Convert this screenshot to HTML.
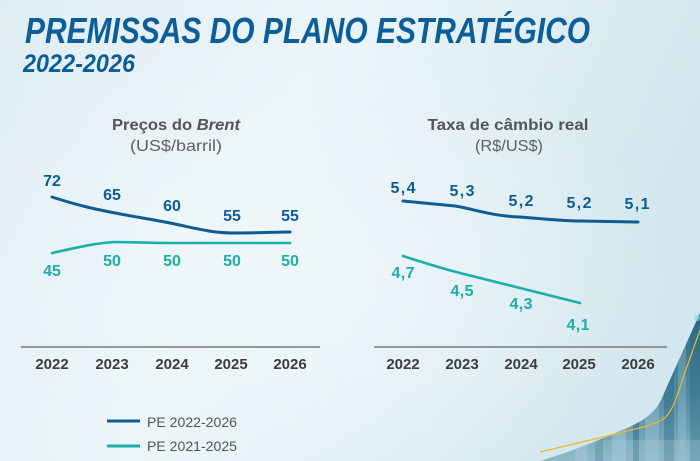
<!DOCTYPE html>
<html><head><meta charset="utf-8"><style>
html,body{margin:0;padding:0;}
body{width:700px;height:461px;overflow:hidden;}
svg{display:block;}
</style></head><body>
<svg width="700" height="461" viewBox="0 0 700 461" xmlns="http://www.w3.org/2000/svg" font-family="'Liberation Sans', 'DejaVu Sans', sans-serif">
<defs>
<linearGradient id="bg" x1="0" y1="0" x2="1" y2="0.3">
<stop offset="0" stop-color="#dfedf2"/>
<stop offset="0.45" stop-color="#ebf5f8"/>
<stop offset="1" stop-color="#d2e7ee"/>
</linearGradient>
<radialGradient id="glow" cx="0.42" cy="0.62" r="0.55">
<stop offset="0" stop-color="#f0f7fa" stop-opacity="0.9"/>
<stop offset="1" stop-color="#f0f7fa" stop-opacity="0"/>
</radialGradient>
<linearGradient id="bld" x1="0" y1="0" x2="0" y2="1">
<stop offset="0" stop-color="#2a6a87"/>
<stop offset="0.55" stop-color="#4f8ba4"/>
<stop offset="1" stop-color="#84b4c5"/>
</linearGradient>
<clipPath id="bc"><path d="M540,461 C570,452 600,440 622,430 C642,422 655,414 662,398 C672,375 688,340 700,313 L700,461 Z"/></clipPath>
</defs>
<rect width="700" height="461" fill="url(#bg)"/>
<rect width="700" height="461" fill="url(#glow)"/>

<!-- building graphic -->
<path d="M540,461 C570,452 600,440 622,430 C642,422 655,414 662,398 C672,375 688,340 700,313 L700,461 Z" fill="url(#bld)"/>
<g clip-path="url(#bc)">
<rect x="575" y="400" width="12" height="61" fill="#b8d3dd" opacity="0.4"/>
<rect x="595" y="400" width="8" height="61" fill="#2f6880" opacity="0.35"/>
<rect x="612" y="400" width="14" height="61" fill="#c3dbe3" opacity="0.35"/>
<rect x="633" y="380" width="6" height="81" fill="#27607a" opacity="0.45"/>
<rect x="645" y="380" width="14" height="81" fill="#b5d0db" opacity="0.3"/>
<rect x="664" y="340" width="10" height="121" fill="#245c76" opacity="0.35"/>
<rect x="678" y="320" width="8" height="141" fill="#a9c9d6" opacity="0.3"/>
<rect x="690" y="310" width="10" height="151" fill="#2a6582" opacity="0.35"/>
<rect x="540" y="440" width="160" height="21" fill="#a6c6d3" opacity="0.3"/>
</g>
<path d="M540,452 L620,433 C640,428 655,424 662,420 C672,413 676,400 683,378 L700,330" fill="none" stroke="#f0b72a" stroke-width="1.2"/>
<circle cx="697" cy="318" r="3" fill="#7fe0f0" opacity="0.7"/>

<!-- title -->
<text x="25" y="43" font-weight="bold" font-style="italic" font-size="36" fill="#0d5e98" textLength="565" lengthAdjust="spacingAndGlyphs">PREMISSAS DO PLANO ESTRATÉGICO</text>
<text x="23" y="72" font-weight="bold" font-style="italic" font-size="25" fill="#0d5e98" textLength="112" lengthAdjust="spacingAndGlyphs">2022-2026</text>

<!-- left chart -->
<text x="176" y="130" text-anchor="middle" font-size="16" font-weight="bold" fill="#555" textLength="128" lengthAdjust="spacingAndGlyphs">Preços do <tspan font-style="italic">Brent</tspan></text>
<text x="176" y="151" text-anchor="middle" font-size="16" fill="#606060" textLength="92" lengthAdjust="spacingAndGlyphs">(US$/barril)</text>

<path d="M52,197 C80,206 95,209 110,212 C135,217 150,219 170,223 C195,228 210,233 235,233 C260,233 275,232 290,232" fill="none" stroke="#0e5c92" stroke-width="3" stroke-linecap="round"/>
<path d="M52,253 C75,248 95,243 115,242 C130,242 150,243 170,243 L290,243" fill="none" stroke="#1ab0a7" stroke-width="2.6" stroke-linecap="round"/>

<g font-size="16" font-weight="bold" fill="#0e5c92" text-anchor="middle">
<text x="52" y="186">72</text>
<text x="112" y="200">65</text>
<text x="172" y="211">60</text>
<text x="232" y="221">55</text>
<text x="290" y="221">55</text>
</g>
<g font-size="16" font-weight="bold" fill="#1ab0a7" text-anchor="middle">
<text x="52" y="276">45</text>
<text x="112" y="266">50</text>
<text x="172" y="266">50</text>
<text x="232" y="266">50</text>
<text x="290" y="266">50</text>
</g>
<line x1="21" y1="347" x2="320" y2="347" stroke="#7a7a7a" stroke-width="1.5"/>
<g font-size="15" font-weight="bold" fill="#3d3d3d" text-anchor="middle">
<text x="52" y="369">2022</text>
<text x="112" y="369">2023</text>
<text x="172" y="369">2024</text>
<text x="231" y="369">2025</text>
<text x="290" y="369">2026</text>
</g>

<!-- right chart -->
<text x="508" y="130" text-anchor="middle" font-size="16" font-weight="bold" fill="#555" textLength="161" lengthAdjust="spacingAndGlyphs">Taxa de câmbio real</text>
<text x="509" y="151" text-anchor="middle" font-size="16" fill="#606060" textLength="68" lengthAdjust="spacingAndGlyphs">(R$/US$)</text>

<path d="M403,201 L455,206 C470,208 490,216 520,217 C545,219 565,221 580,221 L638,222" fill="none" stroke="#0e5c92" stroke-width="3" stroke-linecap="round"/>
<path d="M403,256 C425,263 440,268 460,273 C480,278 500,283 520,288 L580,303" fill="none" stroke="#1ab0a7" stroke-width="2.6" stroke-linecap="round"/>

<g font-size="16" font-weight="bold" fill="#0e5c92" text-anchor="middle">
<text x="403" y="193" textLength="25" lengthAdjust="spacing">5,4</text>
<text x="462" y="196" textLength="25" lengthAdjust="spacing">5,3</text>
<text x="521" y="206" textLength="25" lengthAdjust="spacing">5,2</text>
<text x="579" y="208" textLength="25" lengthAdjust="spacing">5,2</text>
<text x="637" y="209" textLength="25" lengthAdjust="spacing">5,1</text>
</g>
<g font-size="16" font-weight="bold" fill="#1ab0a7" text-anchor="middle">
<text x="403" y="278" textLength="23" lengthAdjust="spacing">4,7</text>
<text x="462" y="296" textLength="23" lengthAdjust="spacing">4,5</text>
<text x="521" y="309" textLength="23" lengthAdjust="spacing">4,3</text>
<text x="578" y="330" textLength="23" lengthAdjust="spacing">4,1</text>
</g>
<line x1="374" y1="347" x2="667" y2="347" stroke="#7a7a7a" stroke-width="1.5"/>
<g font-size="15" font-weight="bold" fill="#3d3d3d" text-anchor="middle">
<text x="403" y="369">2022</text>
<text x="462" y="369">2023</text>
<text x="521" y="369">2024</text>
<text x="579" y="369">2025</text>
<text x="638" y="369">2026</text>
</g>

<!-- legend -->
<line x1="107" y1="421" x2="140" y2="421" stroke="#0e5c92" stroke-width="3"/>
<line x1="107" y1="446" x2="140" y2="446" stroke="#1ab0a7" stroke-width="3"/>
<text x="147" y="427" font-size="14" fill="#555" textLength="90" lengthAdjust="spacingAndGlyphs">PE 2022-2026</text>
<text x="147" y="451" font-size="14" fill="#555" textLength="90" lengthAdjust="spacingAndGlyphs">PE 2021-2025</text>
</svg>
</body></html>
